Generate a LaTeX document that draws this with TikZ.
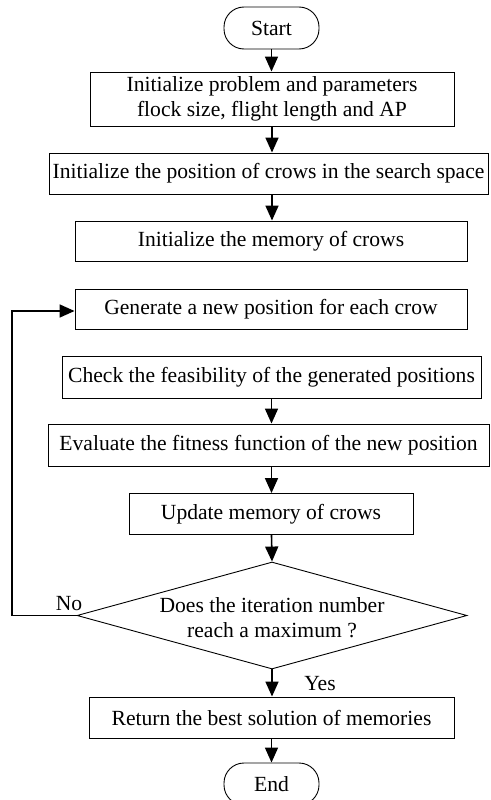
\documentclass[tikz,border=0pt]{standalone}
\usepackage{fontspec}
\setmainfont{Liberation Serif}
\usetikzlibrary{arrows.meta,shapes.geometric}
\begin{document}
\begin{tikzpicture}[x=1pt,y=-1pt,
  every node/.style={font=\fontsize{21.6}{25}\selectfont},
  box/.style={draw,line width=0.9pt,rectangle,inner sep=0pt,align=center},
  term/.style={draw,line width=0.9pt,rectangle,rounded corners=20pt,minimum width=95pt,minimum height=42pt,inner sep=0pt},
  flow/.style={line width=1.6pt,-{Triangle[length=15pt,width=13pt]}},
  lbl/.style={inner sep=0pt}]
\useasboundingbox (0,0) rectangle (490,800);
\node[term] (start) at (271.5,28) {Start};
\node[box,minimum width=364pt,minimum height=54pt] (init1) at (272,99) {Initialize problem and parameters\\flock size, flight length and AP};
\node[box,minimum width=439pt,minimum height=41pt] (init2) at (268.5,173.5) {Initialize the position of crows in the search space};
\node[box,minimum width=392pt,minimum height=40pt] (mem) at (271,241) {Initialize the memory of crows};
\node[box,minimum width=392pt,minimum height=40pt] (gen) at (271,309.5) {Generate a new position for each crow};
\node[box,minimum width=419pt,minimum height=42pt] (check) at (271.5,377) {Check the feasibility of the generated positions};
\node[box,minimum width=441pt,minimum height=42pt] (eval) at (268.5,445) {Evaluate the fitness function of the new position};
\node[box,minimum width=284pt,minimum height=41pt] (upd) at (271,514) {Update memory of crows};
\node[draw,line width=0.9pt,diamond,minimum width=390pt,minimum height=107pt,inner sep=0pt,aspect=3.64] (dec) at (272,615.5) {};
\node[align=center,inner sep=0pt] (dectext) at (272,618) {Does the iteration number\\reach a maximum ?};
\node[box,minimum width=365pt,minimum height=41pt] (ret) at (271.5,717.5) {Return the best solution of memories};
\node[term] (end) at (271.5,784) {End};
\coordinate (c1) at (12,615.5);
\coordinate (c2) at (12,311);
\draw[flow] (start.south) -- (start.south |- init1.north);
\draw[flow] (init1.south) -- (init1.south |- init2.north);
\draw[flow] (init2.south -| init1.south) -- (init1.south |- mem.north);
\draw[flow] (check.south) -- (check.south |- eval.north);
\draw[flow] (check.south |- eval.south) -- (check.south |- upd.north);
\draw[flow] (check.south |- upd.south) -- (dec.north);
\draw[flow] (dec.south) -- (dec.south |- ret.north);
\draw[flow] (ret.south) -- (ret.south |- end.north);
\draw[flow] (dec.west) -- (c1) -- (c2) -- (c2 -| gen.west);
\node[lbl] (no) at (69,604) {No};
\node[lbl] (yes) at (320,684) {Yes};
\end{tikzpicture}
\end{document}
